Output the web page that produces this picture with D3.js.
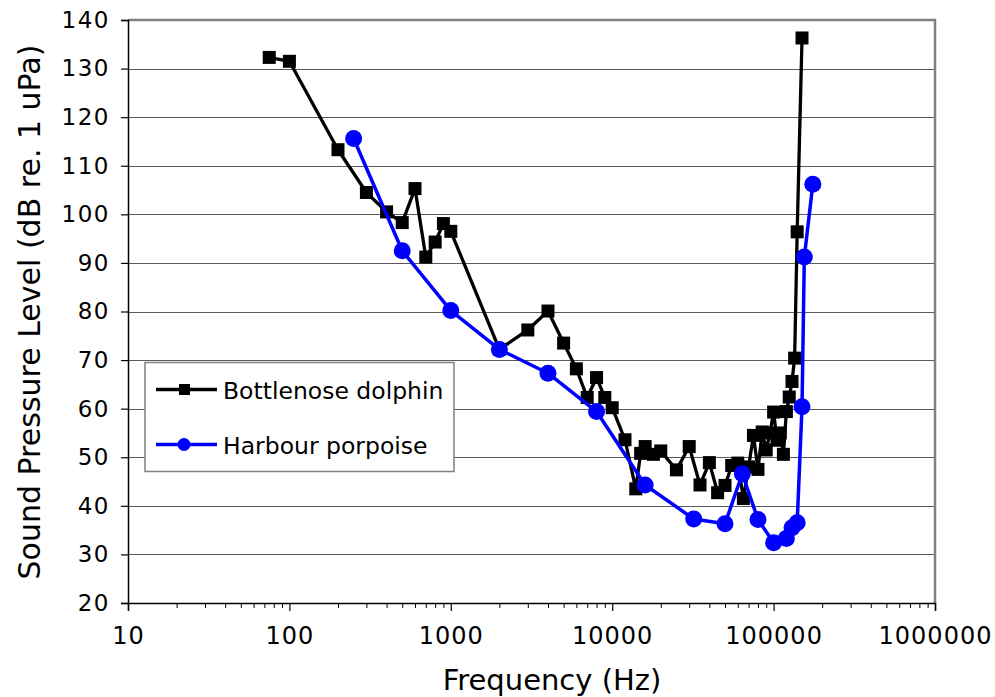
<!DOCTYPE html>
<html>
<head>
<meta charset="utf-8">
<script src="https://cdn.jsdelivr.net/npm/d3@7/dist/d3.min.js"></script>
<style>
  html, body { margin: 0; padding: 0; background: #fff; }
  svg { display: block; }
  text { font-family: "DejaVu Sans", Verdana, sans-serif; fill: #000; }
</style>
</head>
<body>
<svg id="chart" width="995" height="697"></svg>
<script>
// Hearing thresholds: frequency (Hz) vs sound pressure level (dB re. 1 uPa)
const dolphinFreq = [75, 100, 200, 300, 400, 500, 600, 700, 800, 900, 1000,
  2000, 3000, 4000, 5000, 6000, 7000, 8000, 9000, 10000,
  12000, 14000, 15000, 16000, 18000, 20000, 25000, 30000, 35000, 40000, 45000, 50000,
  55000, 60000, 65000, 70000, 75000, 80000, 85000, 90000, 95000, 100000,
  105000, 110000, 115000, 120000, 125000, 130000, 135000, 140000, 150000];
const dolphinLevel = [132.3, 131.5, 113.3, 104.5, 100.5, 98.3, 105.3, 91.2, 94.3, 98.1, 96.5,
  72.2, 76.2, 80.1, 73.5, 68.2, 62.3, 66.4, 62.3, 60.2,
  53.6, 43.5, 50.8, 52.2, 50.6, 51.3, 47.4, 52.2, 44.3, 48.9, 42.7, 44.2,
  48.3, 48.8, 41.5, 48.0, 54.5, 47.5, 55.2, 51.5, 55.0, 59.3,
  53.5, 55.0, 50.6, 59.4, 62.4, 65.6, 70.4, 96.4, 136.3];

const porpoiseFreq = [250, 500, 1000, 2000, 4000, 8000, 16000, 32000, 50000, 64000,
  80000, 100000, 120000, 130000, 140000, 150000, 155000, 175000];
const porpoiseLevel = [115.6, 92.5, 80.2, 72.2, 67.3, 59.4, 44.3, 37.3, 36.3, 46.6,
  37.2, 32.4, 33.3, 35.5, 36.5, 60.4, 91.2, 106.2];

const xTicks = [10, 100, 1000, 10000, 100000, 1000000];
const yTicks = [20, 30, 40, 50, 60, 70, 80, 90, 100, 110, 120, 130, 140];

const seriesNames = ["Bottlenose dolphin", "Harbour porpoise"];
const seriesColors = ["#000000", "#0000ff"];

const svg = d3.select("#chart");
const plotL = 128, plotR = 935, plotT = 20, plotB = 603;

const x = d3.scaleLog().domain([10, 1000000]).range([plotL, plotR]);
const y = d3.scaleLinear().domain([20, 140]).range([plotB, plotT]);

// horizontal gridlines
svg.append("g")
  .selectAll("line")
  .data(yTicks.filter(v => v > 20 && v < 140))
  .join("line")
  .attr("x1", plotL).attr("x2", plotR)
  .attr("y1", d => Math.round(y(d)) + 0.5).attr("y2", d => Math.round(y(d)) + 0.5)
  .attr("stroke", "#5a5a5a").attr("stroke-width", 1.2);

// plot-area frame: top and right edges
svg.append("path")
  .attr("d", `M${plotL},${plotT}H${plotR}V${plotB}`)
  .attr("fill", "none").attr("stroke", "#808080").attr("stroke-width", 2.5);

// y axis
const yAxis = d3.axisLeft(y).tickValues(yTicks).tickSize(7).tickPadding(11);
const gy = svg.append("g").attr("transform", `translate(${plotL},0)`).call(yAxis);
gy.select(".domain").attr("stroke", "#000").attr("stroke-width", 1.5);
gy.selectAll(".tick line").attr("stroke", "#000").attr("stroke-width", 1.2);
gy.selectAll(".tick text").style("font-size", "23px").style("letter-spacing", "1.5px")
  .attr("fill", "#000");

// x axis with minor ticks
const minor = [];
for (let e = 1; e < 6; e++) for (let m = 2; m <= 9; m++) minor.push(m * Math.pow(10, e));
const gxMinor = svg.append("g").attr("transform", `translate(0,${plotB})`)
  .call(d3.axisBottom(x).tickValues(minor).tickSize(5).tickFormat(""));
gxMinor.select(".domain").remove();
gxMinor.selectAll(".tick line").attr("stroke", "#000").attr("stroke-width", 1);

const xAxis = d3.axisBottom(x).tickValues(xTicks).tickSize(8).tickPadding(16)
  .tickFormat(d3.format("d"));
const gx = svg.append("g").attr("transform", `translate(0,${plotB})`).call(xAxis);
gx.select(".domain").attr("stroke", "#000").attr("stroke-width", 1.5);
gx.selectAll(".tick line").attr("stroke", "#000").attr("stroke-width", 1.2);
gx.selectAll(".tick text").style("font-size", "24px").style("letter-spacing", "1px")
  .attr("fill", "#000");

// axis titles
svg.append("text")
  .attr("x", 552).attr("y", 690)
  .attr("text-anchor", "middle")
  .style("font-size", "29px")
  .text("Frequency (Hz)");
svg.append("text")
  .attr("transform", `translate(40,312) rotate(-90)`)
  .attr("text-anchor", "middle")
  .style("font-size", "30px")
  .text("Sound Pressure Level (dB re. 1 uPa)");

const line = d3.line().x(d => x(d[0])).y(d => y(d[1]));

// bottlenose dolphin
const dolphin = dolphinFreq.map((f, i) => [f, dolphinLevel[i]]);
svg.append("path").datum(dolphin)
  .attr("d", line).attr("fill", "none")
  .attr("stroke", seriesColors[0]).attr("stroke-width", 3.3).attr("stroke-linejoin", "round");
svg.append("g").selectAll("rect").data(dolphin).join("rect")
  .attr("x", d => x(d[0]) - 6.5).attr("y", d => y(d[1]) - 6.5)
  .attr("width", 13).attr("height", 13).attr("fill", seriesColors[0]);

// harbour porpoise
const porpoise = porpoiseFreq.map((f, i) => [f, porpoiseLevel[i]]);
svg.append("path").datum(porpoise)
  .attr("d", line).attr("fill", "none")
  .attr("stroke", seriesColors[1]).attr("stroke-width", 3.5).attr("stroke-linejoin", "round");
svg.append("g").selectAll("circle").data(porpoise).join("circle")
  .attr("cx", d => x(d[0])).attr("cy", d => y(d[1]))
  .attr("r", 8.5).attr("fill", seriesColors[1]);

// legend
const lg = svg.append("g");
lg.append("rect").attr("x", 145).attr("y", 362.5).attr("width", 309).attr("height", 109)
  .attr("fill", "#fff").attr("stroke", "#808080").attr("stroke-width", 1.5);
seriesNames.forEach((name, i) => {
  const cy = i === 0 ? 389.5 : 444.5;
  lg.append("line").attr("x1", 156).attr("x2", 217).attr("y1", cy).attr("y2", cy)
    .attr("stroke", seriesColors[i]).attr("stroke-width", 3.5);
  if (i === 0) {
    lg.append("rect").attr("x", 179).attr("y", cy - 5.5).attr("width", 11).attr("height", 11)
      .attr("fill", seriesColors[i]);
  } else {
    lg.append("circle").attr("cx", 184).attr("cy", cy).attr("r", 6.5).attr("fill", seriesColors[i]);
  }
  lg.append("text").attr("x", 223).attr("y", cy + 9)
    .style("font-size", "23.5px").text(name);
});
</script>
</body>
</html>
